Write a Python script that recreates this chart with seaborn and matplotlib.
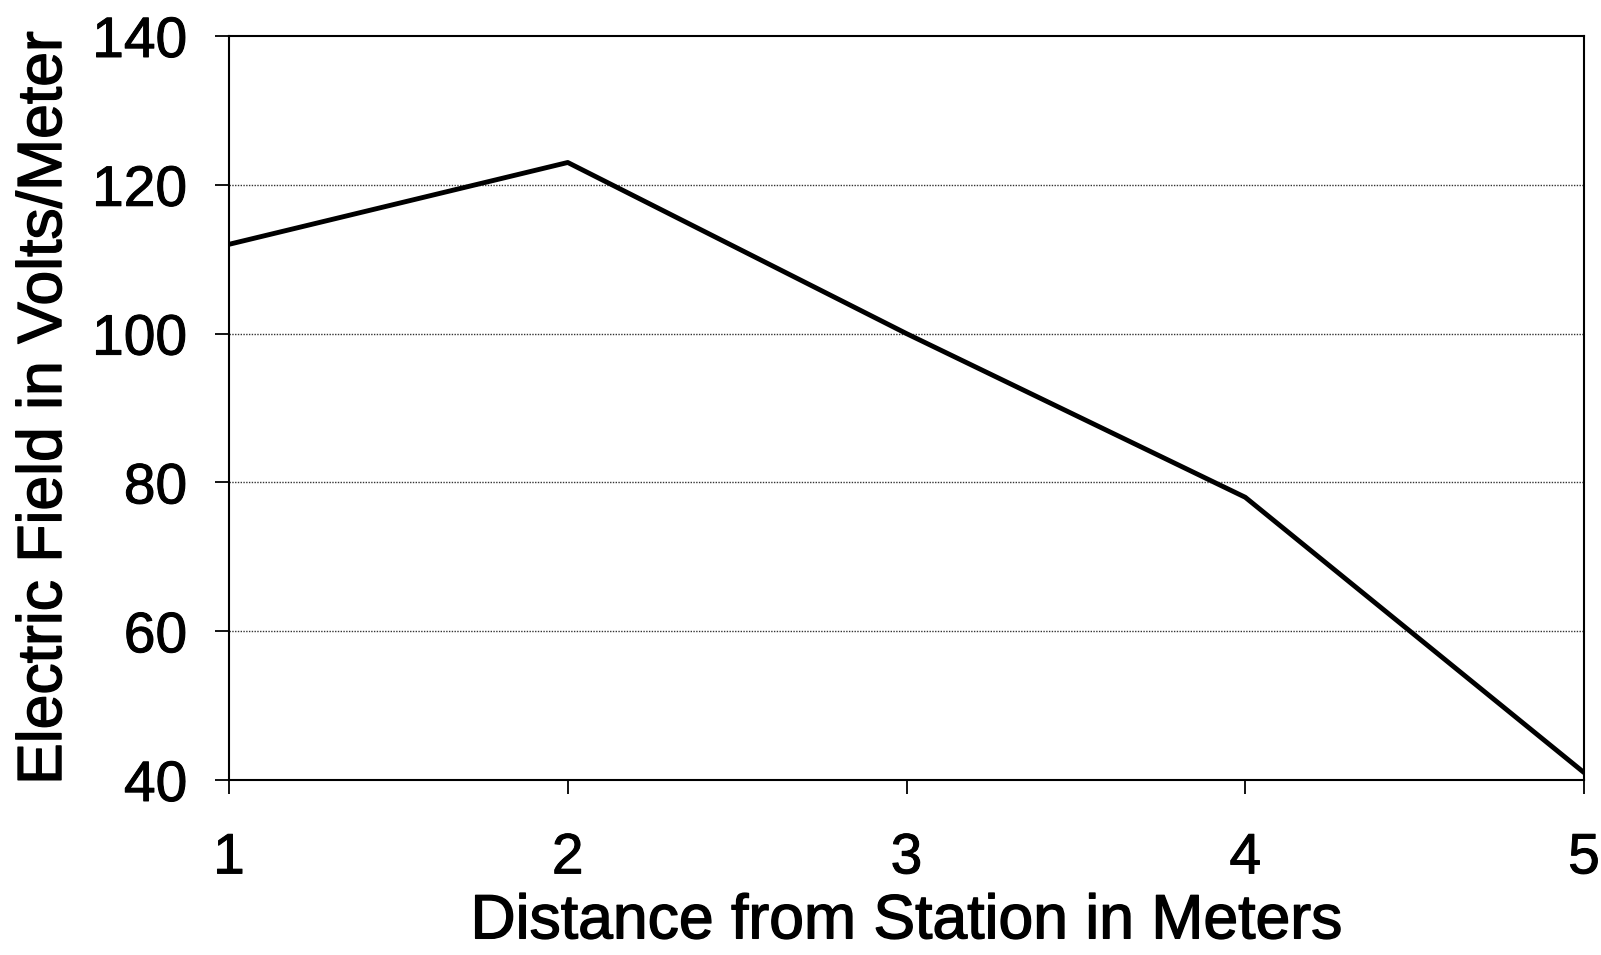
import matplotlib
matplotlib.use("Agg")
import matplotlib.pyplot as plt
import matplotlib.patheffects as pe
import seaborn as sns
import pandas as pd

distance_m = [1, 2, 3, 4, 5]
field_v_per_m = [112, 123, 100, 78, 41]
x_ticks = [1, 2, 3, 4, 5]
y_ticks = [40, 60, 80, 100, 120, 140]

sns.set_theme(style="white")
plt.rcParams['font.family'] = ['Liberation Sans', 'DejaVu Sans']

W, H = 1601, 955
fig = plt.figure(figsize=(W / 100, H / 100), dpi=100)
left, right, top, bottom = 229, 1584, 36, 780
ax = fig.add_axes([left / W, 1 - bottom / H, (right - left) / W, (bottom - top) / H])

df = pd.DataFrame({"Distance": distance_m, "Field": field_v_per_m})
sns.lineplot(data=df, x="Distance", y="Field", ax=ax, color="black", linewidth=3.5)

ax.set_xlim(1, 5)
ax.set_ylim(40, 140)
ax.set_xticks(x_ticks)
ax.set_yticks(y_ticks)
ax.set_xticklabels([str(v) for v in x_ticks])
ax.set_yticklabels([str(v) for v in y_ticks])

for y in y_ticks[1:-1]:
    ax.axhline(y, color="#333333", linestyle=(0, (1, 1)), linewidth=1.0, zorder=0)

for s in ax.spines.values():
    s.set_visible(True)
    s.set_color("black")
    s.set_linewidth(1.5)

ax.tick_params(axis="both", which="major", direction="out", length=10, width=1.3,
               color="black", labelsize=41, labelcolor="black",
               bottom=True, left=True, top=False, right=False)
ax.tick_params(axis="y", pad=20)
ax.tick_params(axis="x", pad=27)

tick_ink = [pe.withStroke(linewidth=0.7, foreground="black")]
label_ink = [pe.withStroke(linewidth=1.0, foreground="black")]
for lbl in ax.get_xticklabels() + ax.get_yticklabels():
    lbl.set_path_effects(tick_ink)

ax.set_xlabel("Distance from Station in Meters", fontsize=45,
              color="black", labelpad=5, path_effects=label_ink)
ax.set_ylabel("Electric Field in Volts/Meter", fontsize=45,
              color="black", labelpad=13, path_effects=label_ink)

fig.savefig("out.png", dpi=100, facecolor="white")
